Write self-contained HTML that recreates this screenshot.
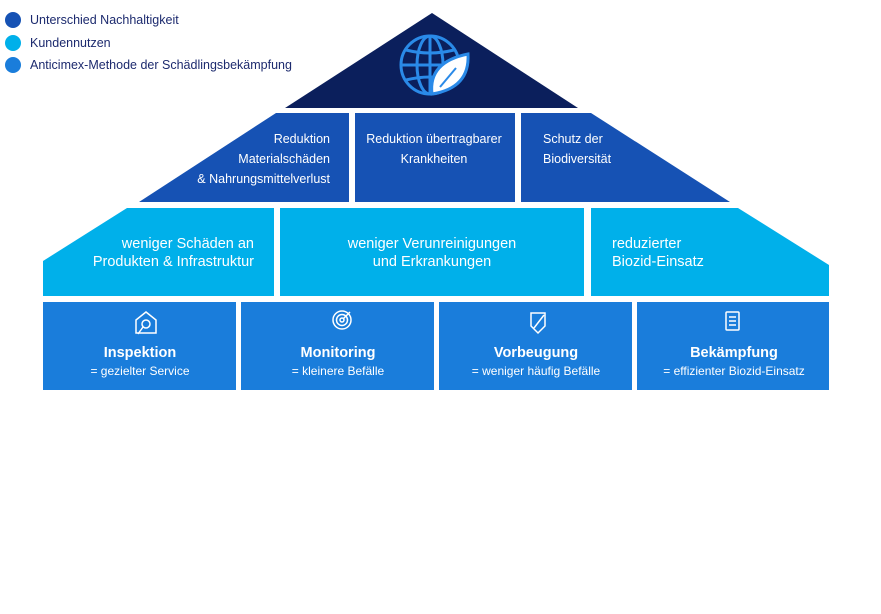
<!DOCTYPE html>
<html><head><meta charset="utf-8"><style>
html,body{margin:0;padding:0;background:#fff;width:881px;height:614px;overflow:hidden}
svg{display:block}
text{font-family:"Liberation Sans",sans-serif}
</style></head><body>
<svg width="881" height="614" viewBox="0 0 881 614" xmlns="http://www.w3.org/2000/svg">
<!-- legend -->
<circle cx="13" cy="20" r="8" fill="#1652b4"/>
<circle cx="13" cy="43" r="8" fill="#00b0ea"/>
<circle cx="13" cy="65" r="8" fill="#1a7ddb"/>
<g font-size="12.5" fill="#1c2a6e">
<text x="30" y="24">Unterschied Nachhaltigkeit</text>
<text x="30" y="47">Kundennutzen</text>
<text x="30" y="69">Anticimex-Methode der Schädlingsbekämpfung</text>
</g>
<!-- roof -->
<polygon points="432,13 578,108 285,108" fill="#0b1f5c"/>
<g fill="none" stroke="#2a8ae8" stroke-width="3">
<circle cx="430" cy="65" r="29"/>
<ellipse cx="430" cy="65" rx="13" ry="29"/>
<line x1="430" y1="36" x2="430" y2="94"/>
<line x1="401" y1="65" x2="459" y2="65"/>
<path d="M406 50 Q430 56 454 50"/>
<path d="M406 80 Q430 74 454 80"/>
</g>
<path d="M432 94 Q428 62 468 54 Q470 88 432 94 Z" fill="#fff" stroke="#2a8ae8" stroke-width="3"/>
<line x1="440" y1="87" x2="456" y2="68" stroke="#2a8ae8" stroke-width="2"/>
<!-- row2 -->
<polygon points="276,113 349,113 349,202 139,202" fill="#1652b4"/>
<rect x="355" y="113" width="160" height="89" fill="#1652b4"/>
<polygon points="521,113 591,113 730,202 521,202" fill="#1652b4"/>
<g font-size="12.5" fill="#fff">
<text x="330" y="143" text-anchor="end">Reduktion</text>
<text x="330" y="163" text-anchor="end">Materialschäden</text>
<text x="330" y="183" text-anchor="end">&amp; Nahrungsmittelverlust</text>
<text x="434" y="143" text-anchor="middle">Reduktion übertragbarer</text>
<text x="434" y="163" text-anchor="middle">Krankheiten</text>
<text x="543" y="143">Schutz der</text>
<text x="543" y="163">Biodiversität</text>
</g>
<!-- row3 -->
<polygon points="127,208 274,208 274,296 43,296 43,261" fill="#00b0ea"/>
<rect x="280" y="208" width="304" height="88" fill="#00b0ea"/>
<polygon points="591,208 738,208 829,265 829,296 591,296" fill="#00b0ea"/>
<g font-size="14.5" fill="#fff">
<text x="254" y="248" text-anchor="end">weniger Schäden an</text>
<text x="254" y="266" text-anchor="end">Produkten &amp; Infrastruktur</text>
<text x="432" y="248" text-anchor="middle">weniger Verunreinigungen</text>
<text x="432" y="266" text-anchor="middle">und Erkrankungen</text>
<text x="612" y="248">reduzierter</text>
<text x="612" y="266">Biozid-Einsatz</text>
</g>
<!-- row4 -->
<g fill="#1a7ddb">
<rect x="43" y="302" width="193" height="88"/>
<rect x="241" y="302" width="193" height="88"/>
<rect x="439" y="302" width="193" height="88"/>
<rect x="637" y="302" width="192" height="88"/>
</g>
<g fill="none" stroke="#fff" stroke-width="1.5">
<path d="M136 320 L146 312 L156 320 L156 333 L136 333 Z"/>
<circle cx="146" cy="324" r="4"/>
<line x1="143" y1="327" x2="138" y2="334"/>
<circle cx="342" cy="320" r="9"/>
<circle cx="342" cy="320" r="5.5"/>
<circle cx="342" cy="320" r="2"/>
<line x1="343" y1="319" x2="350" y2="312"/>
<path d="M531 313 L545 313 L545 326 L538 333 L531 326 Z"/>
<line x1="534" y1="328" x2="544" y2="315"/>
<rect x="726" y="312" width="13" height="18" rx="1"/>
<line x1="729" y1="317" x2="736" y2="317"/>
<line x1="729" y1="321" x2="736" y2="321"/>
<line x1="729" y1="325" x2="736" y2="325"/>
</g>
<g fill="#fff" text-anchor="middle">
<g font-size="14.5" font-weight="bold">
<text x="140" y="357">Inspektion</text>
<text x="338" y="357">Monitoring</text>
<text x="536" y="357">Vorbeugung</text>
<text x="734" y="357">Bekämpfung</text>
</g>
<g font-size="12">
<text x="140" y="375">= gezielter Service</text>
<text x="338" y="375">= kleinere Befälle</text>
<text x="536" y="375">= weniger häufig Befälle</text>
<text x="734" y="375">= effizienter Biozid-Einsatz</text>
</g>
</g>
</svg>
</body></html>
